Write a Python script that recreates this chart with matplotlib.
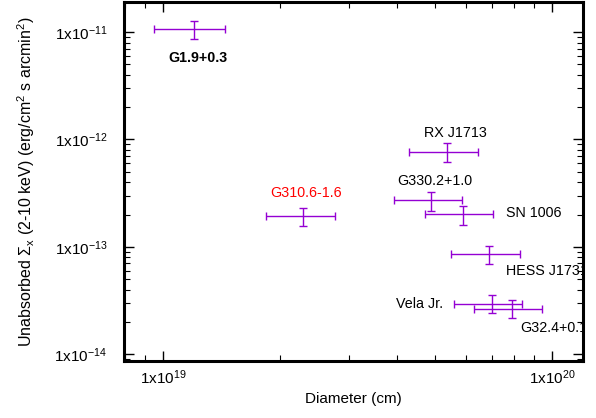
import numpy as np
import matplotlib
matplotlib.use("Agg")
import matplotlib.pyplot as plt
from matplotlib.ticker import LogLocator, NullFormatter

plt.rcParams['font.family'] = ['Liberation Sans', 'DejaVu Sans']
plt.rcParams['mathtext.fontset'] = 'custom'
plt.rcParams['mathtext.rm'] = 'Liberation Sans'
plt.rcParams['mathtext.it'] = 'Liberation Sans'
plt.rcParams['mathtext.bf'] = 'Liberation Sans:bold'

# Podaci: ime, promjer (cm) i površinski sjaj
names = ['G1.9+0.3', 'RX J1713', 'G330.2+1.0', 'SN 1006', 'HESS J1731',
         'Vela Jr.', 'G32.4+0.1', 'G310.6-1.6']
diam = np.array([1.20e19, 5.37e19, 4.89e19, 5.90e19, 6.87e19, 7.00e19, 7.87e19, 2.29e19])
diam_lo = np.array([9.5e18, 4.30e19, 3.92e19, 4.72e19, 5.50e19, 5.60e19, 6.30e19, 1.84e19])
diam_hi = np.array([1.44e19, 6.44e19, 5.85e19, 7.03e19, 8.28e19, 8.36e19, 9.44e19, 2.76e19])
sb = np.array([1.07e-11, 7.7e-13, 2.71e-13, 2.03e-13, 8.55e-14, 2.95e-14, 2.62e-14, 1.92e-13])
sb_lo = np.array([8.6e-12, 6.2e-13, 2.18e-13, 1.61e-13, 6.9e-14, 2.40e-14, 2.16e-14, 1.55e-13])
sb_hi = np.array([1.27e-11, 9.2e-13, 3.27e-13, 2.42e-13, 1.02e-13, 3.56e-14, 3.20e-14, 2.29e-13])

# Pozicije oznaka (u podatkovnim koordinatama) i poravnanje
label_x = [1.23e19, 5.65e19, 5.0e19, 7.6e19, 7.6e19, 5.25e19, 8.3e19, 2.33e19]
label_y = [5.8e-12, 1.14e-12, 4.1e-13, 2.05e-13, 5.9e-14, 2.95e-14, 1.76e-14, 3.2e-13]
label_ha = ['center', 'center', 'center', 'left', 'left', 'right', 'left', 'center']
label_col = ['black'] * 7 + ['red']
label_w = ['bold'] + ['normal'] * 7

fig = plt.figure(figsize=(5.96, 4.18), dpi=100)
ax = fig.add_axes([0.208, 0.136, 0.77, 0.859])

ax.errorbar(diam, sb,
            xerr=[diam - diam_lo, diam_hi - diam],
            yerr=[sb - sb_lo, sb_hi - sb],
            fmt='none', ecolor='#9400d3', elinewidth=1.0, capsize=3, capthick=1.0)

for i in range(len(names)):
    ax.text(label_x[i], label_y[i], names[i], ha=label_ha[i], va='center',
            color=label_col[i], fontsize=10.3, fontweight=label_w[i], clip_on=True)

ax.set_xscale('log')
ax.set_yscale('log')
ax.set_xlim(10**18.90, 10**20.079)
ax.set_ylim(10**-14.065, 10**-10.72)

ax.set_xticks([1e19, 1e20])
ax.set_xticklabels([r'1x10$^{19}$', r'1x10$^{20}$'])
ax.set_yticks([1e-14, 1e-13, 1e-12, 1e-11])
ax.set_yticklabels([r'1x10$^{-14}$', r'1x10$^{-13}$', r'1x10$^{-12}$', r'1x10$^{-11}$'])
ax.xaxis.set_minor_locator(LogLocator(base=10, subs=np.arange(2, 10)))
ax.yaxis.set_minor_locator(LogLocator(base=10, subs=np.arange(2, 10)))
ax.xaxis.set_minor_formatter(NullFormatter())
ax.yaxis.set_minor_formatter(NullFormatter())

ax.tick_params(which='both', direction='in', top=True, right=True, labelsize=11)
ax.tick_params(which='major', length=7, width=1.0)
ax.tick_params(axis='x', which='major', pad=5)
ax.tick_params(axis='y', which='major', pad=12)
ax.tick_params(which='minor', length=4, width=0.8)
for s in ax.spines.values():
    s.set_linewidth(2.2)

ax.set_xlabel('Diameter (cm)', fontsize=11)
ax.xaxis.set_label_coords(0.5, -0.085)
ax.set_ylabel(r'Unabsorbed $\Sigma_{\rm x}$ (2-10 keV) (erg/cm$^2$ s arcmin$^2$)',
              fontsize=11.5)
ax.yaxis.set_label_coords(-0.19, 0.5)

plt.savefig('out.png', dpi=100)
